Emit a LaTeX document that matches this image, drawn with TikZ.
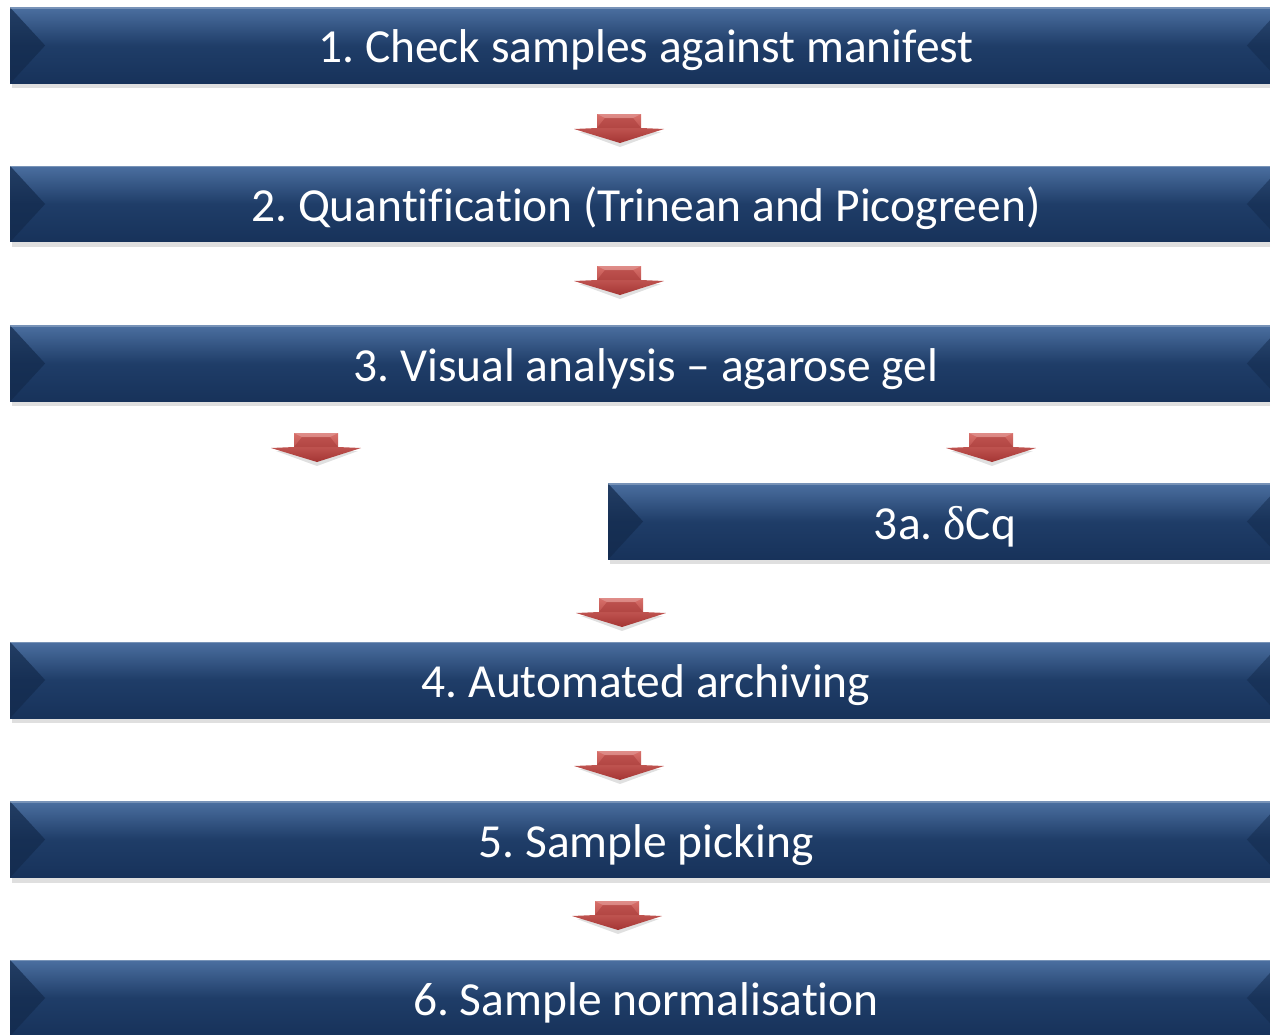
\documentclass[tikz,border=0pt]{standalone}
\usepackage{fontspec}
\setmainfont{Carlito}[Ligatures={NoCommon,NoRare,NoContextual}]
\newfontfamily\symfont{Liberation Serif}
\usetikzlibrary{shadows}

\definecolor{barTop}{HTML}{4B6FA0}
\definecolor{barMid}{HTML}{1F3D68}
\definecolor{barBot}{HTML}{17325A}
\definecolor{barEdge}{HTML}{132A4C}
\definecolor{arrTop}{HTML}{D8706B}
\definecolor{arrBot}{HTML}{A43533}

\tikzset{
  stepbar/.style={minimum width=25.44cm, minimum height=1.52cm, inner sep=0pt,
    text height=0.9cm, text depth=0.2cm,
    top color=barTop, bottom color=barBot, middle color=barMid, text=white,
    font=\fontsize{27}{32}\selectfont\frenchspacing,
    drop shadow={shadow xshift=0.04cm, shadow yshift=-0.1cm, opacity=0.25},
    path picture={
      \fill[barEdge, opacity=0.7] (path picture bounding box.north west)
        -- ([xshift=0.7cm]path picture bounding box.west)
        -- (path picture bounding box.south west) -- cycle;
      \fill[barEdge, opacity=0.5] (path picture bounding box.north east)
        -- ([xshift=-0.7cm]path picture bounding box.east)
        -- (path picture bounding box.south east) -- cycle;
      \draw[white, opacity=0.25, line width=0.05cm]
        (path picture bounding box.north west) -- (path picture bounding box.north east);
    }},
  redarrow/.pic={
    \fill[black, opacity=0.12] (-40,18) -- (1,33) -- (42,18) -- cycle;
    \shade[top color=arrTop, bottom color=arrBot]
      (-22,0) -- (22,0) -- (22,14) -- (45,15) -- (1,29) -- (-45,15) -- (-22,14) -- cycle;
    \fill[arrBot, opacity=0.45] (-22,14) -- (-14,4) -- (14,4) -- (22,14) -- cycle;
    \fill[white, opacity=0.2] (-22,0) -- (22,0) -- (14,4) -- (-14,4) -- cycle;
  }
}

\begin{document}
\begin{tikzpicture}[x=0.02cm,y=-0.02cm]
\clip (0,0) rectangle (1270,1034);

\node[stepbar] (s1) at (646,45.5) {1. Check samples against manifest};
\node[stepbar] (s2) at (646,204) {2. Quantificat\kern0pt ion (Trinean and Picogreen)};
\node[stepbar] (s3) at (646,363.5) {3. Visual analysis -- agarose gel};
\node[stepbar, minimum width=13.48cm] (s3a) at (945,521.5) {3a. {\symfont δ}Cq};
\node[stepbar] (s4) at (646,680) {4. Automated archiving};
\node[stepbar] (s5) at (646,839.5) {5. Sample picking};
\node[stepbar] (s6) at (646,998) {6. Sample normalisat\kern0pt ion};

% arrows between the steps
\foreach \cx/\ty in {619/114, 619/266, 316/433, 991/433,
                     621/598, 619/751, 617/901}
{
	\pic at (\cx,\ty) {redarrow};
};
\end{tikzpicture}
\end{document}
